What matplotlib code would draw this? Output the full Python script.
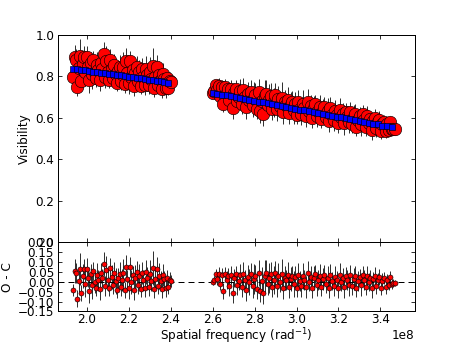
import numpy as np
import matplotlib
matplotlib.use('Agg')
import matplotlib.pyplot as plt

# spatial frequency in units of 1e8 rad^-1, first block of baselines
freq_short = [
    1.935, 1.941, 1.948, 1.954, 1.960, 1.967, 1.973, 1.979, 1.985, 1.992,
    1.998, 2.004, 2.011, 2.017, 2.023, 2.030, 2.036, 2.042, 2.048, 2.055,
    2.061, 2.067, 2.074, 2.080, 2.086, 2.093, 2.099, 2.105, 2.111, 2.118,
    2.124, 2.130, 2.137, 2.143, 2.149, 2.156, 2.162, 2.168, 2.174, 2.181,
    2.187, 2.193, 2.200, 2.206, 2.212, 2.219, 2.225, 2.231, 2.237, 2.244,
    2.250, 2.256, 2.263, 2.269, 2.275, 2.282, 2.288, 2.294, 2.300, 2.307,
    2.313, 2.319, 2.326, 2.332, 2.338, 2.345, 2.351, 2.357, 2.363, 2.370,
    2.376, 2.382, 2.389, 2.395, 2.401,
]
model_short = [
    0.836, 0.835, 0.834, 0.833, 0.832, 0.832, 0.831, 0.830, 0.829, 0.828,
    0.827, 0.826, 0.825, 0.824, 0.823, 0.822, 0.821, 0.820, 0.819, 0.819,
    0.818, 0.817, 0.816, 0.815, 0.814, 0.813, 0.812, 0.811, 0.810, 0.809,
    0.808, 0.807, 0.806, 0.806, 0.805, 0.804, 0.803, 0.802, 0.801, 0.800,
    0.799, 0.798, 0.797, 0.796, 0.795, 0.794, 0.793, 0.793, 0.792, 0.791,
    0.790, 0.789, 0.788, 0.787, 0.786, 0.785, 0.784, 0.783, 0.782, 0.781,
    0.780, 0.779, 0.779, 0.778, 0.777, 0.776, 0.775, 0.774, 0.773, 0.772,
    0.771, 0.770, 0.769, 0.768, 0.767,
]
resid_short = [
    -0.040, 0.055, 0.045, -0.085, 0.005, 0.065, -0.055, 0.030, 0.065, -0.010,
    0.065, 0.020, -0.045, 0.040, -0.015, 0.055, 0.000, -0.030, 0.035, 0.010,
    -0.035, 0.045, 0.020, 0.090, -0.020, 0.060, 0.010, -0.030, 0.070, 0.025,
    -0.015, 0.045, 0.005, -0.040, 0.020, 0.040, -0.025, 0.010, 0.045, -0.040,
    0.075, 0.015, -0.030, 0.075, 0.000, 0.035, -0.040, 0.020, 0.050, -0.015,
    0.030, -0.035, 0.045, 0.010, -0.030, 0.050, 0.020, -0.025, 0.040, 0.005,
    0.070, -0.035, 0.015, 0.065, -0.020, 0.030, 0.005, -0.035, 0.035, 0.015,
    -0.030, 0.020, -0.025, 0.010, 0.005,
]
err_short = [
    0.030, 0.060, 0.050, 0.045, 0.055, 0.080, 0.040, 0.060, 0.050, 0.065,
    0.055, 0.045, 0.060, 0.050, 0.070, 0.045, 0.055, 0.040, 0.060, 0.050,
    0.055, 0.050, 0.045, 0.060, 0.050, 0.070, 0.055, 0.040, 0.050, 0.060,
    0.045, 0.055, 0.065, 0.040, 0.050, 0.060, 0.045, 0.055, 0.070, 0.040,
    0.060, 0.045, 0.055, 0.050, 0.060, 0.045, 0.050, 0.065, 0.055, 0.045,
    0.060, 0.040, 0.055, 0.050, 0.045, 0.060, 0.055, 0.045, 0.070, 0.050,
    0.085, 0.045, 0.055, 0.060, 0.040, 0.065, 0.050, 0.045, 0.055, 0.040,
    0.045, 0.040, 0.035, 0.040, 0.030,
]

# second block of baselines
freq_long = [
    2.600, 2.607, 2.615, 2.622, 2.629, 2.637, 2.644, 2.651, 2.658, 2.666,
    2.673, 2.680, 2.688, 2.695, 2.702, 2.710, 2.717, 2.724, 2.731, 2.739,
    2.746, 2.753, 2.761, 2.768, 2.775, 2.783, 2.790, 2.797, 2.804, 2.812,
    2.819, 2.826, 2.834, 2.841, 2.848, 2.856, 2.863, 2.870, 2.877, 2.885,
    2.892, 2.899, 2.907, 2.914, 2.921, 2.929, 2.936, 2.943, 2.950, 2.958,
    2.965, 2.972, 2.980, 2.987, 2.994, 3.002, 3.009, 3.016, 3.023, 3.031,
    3.038, 3.045, 3.053, 3.060, 3.067, 3.075, 3.082, 3.089, 3.096, 3.104,
    3.111, 3.118, 3.126, 3.133, 3.140, 3.148, 3.155, 3.162, 3.169, 3.177,
    3.184, 3.191, 3.199, 3.206, 3.213, 3.221, 3.228, 3.235, 3.242, 3.250,
    3.257, 3.264, 3.272, 3.279, 3.286, 3.294, 3.301, 3.308, 3.315, 3.323,
    3.330, 3.337, 3.345, 3.352, 3.359, 3.367, 3.374, 3.381, 3.388, 3.396,
    3.403, 3.410, 3.418, 3.425, 3.432, 3.440, 3.447, 3.454, 3.461, 3.469,
]
model_long = [
    0.720, 0.719, 0.717, 0.716, 0.714, 0.713, 0.711, 0.710, 0.709, 0.707,
    0.706, 0.704, 0.703, 0.702, 0.700, 0.699, 0.697, 0.696, 0.694, 0.693,
    0.692, 0.690, 0.689, 0.687, 0.686, 0.684, 0.683, 0.682, 0.680, 0.679,
    0.677, 0.676, 0.675, 0.673, 0.672, 0.670, 0.669, 0.667, 0.666, 0.665,
    0.663, 0.662, 0.660, 0.659, 0.658, 0.656, 0.655, 0.653, 0.652, 0.650,
    0.649, 0.648, 0.646, 0.645, 0.643, 0.642, 0.640, 0.639, 0.638, 0.636,
    0.635, 0.633, 0.632, 0.631, 0.629, 0.628, 0.626, 0.625, 0.623, 0.622,
    0.621, 0.619, 0.618, 0.616, 0.615, 0.613, 0.612, 0.611, 0.609, 0.608,
    0.606, 0.605, 0.604, 0.602, 0.601, 0.599, 0.598, 0.596, 0.595, 0.594,
    0.592, 0.591, 0.589, 0.588, 0.587, 0.585, 0.584, 0.582, 0.581, 0.579,
    0.578, 0.577, 0.575, 0.574, 0.572, 0.571, 0.569, 0.568, 0.567, 0.565,
    0.564, 0.562, 0.561, 0.560, 0.558, 0.557, 0.555, 0.554, 0.552, 0.551,
]
resid_long = [
    0.000, 0.010, 0.040, 0.015, 0.040, -0.010, 0.035, -0.045, 0.040, 0.010,
    0.030, -0.020, 0.035, -0.055, 0.020, 0.040, -0.015, 0.005, 0.035, -0.025,
    0.040, 0.010, -0.040, 0.025, 0.000, 0.040, -0.020, 0.015, 0.030, -0.035,
    0.045, -0.045, 0.005, -0.055, 0.030, 0.045, -0.010, 0.020, 0.040, -0.025,
    0.010, 0.045, -0.020, 0.030, 0.000, 0.040, -0.030, 0.020, 0.010, 0.035,
    -0.025, 0.015, 0.030, -0.010, 0.025, -0.030, 0.035, 0.005, -0.020, 0.030,
    0.010, -0.025, 0.045, 0.000, 0.025, -0.030, 0.020, 0.040, -0.015, 0.010,
    0.030, -0.025, 0.015, 0.035, -0.010, 0.020, -0.030, 0.035, 0.005, -0.020,
    0.025, 0.010, -0.030, 0.035, 0.000, 0.020, -0.025, 0.030, 0.010, -0.015,
    0.035, -0.020, 0.015, 0.030, -0.030, 0.005, 0.025, -0.015, 0.035, 0.010,
    -0.025, 0.030, 0.000, 0.020, -0.030, 0.015, 0.030, -0.020, 0.010, 0.025,
    -0.030, 0.005, 0.020, -0.025, 0.010, -0.015, 0.025, -0.010, -0.005, -0.005,
]
err_long = [
    0.015, 0.020, 0.025, 0.030, 0.035, 0.030, 0.035, 0.040, 0.035, 0.045,
    0.040, 0.050, 0.045, 0.055, 0.045, 0.040, 0.050, 0.045, 0.055, 0.050,
    0.060, 0.050, 0.055, 0.060, 0.065, 0.055, 0.060, 0.075, 0.055, 0.050,
    0.065, 0.055, 0.070, 0.060, 0.080, 0.065, 0.055, 0.075, 0.060, 0.050,
    0.070, 0.060, 0.055, 0.065, 0.050, 0.075, 0.055, 0.060, 0.050, 0.065,
    0.055, 0.060, 0.050, 0.065, 0.055, 0.045, 0.060, 0.050, 0.055, 0.065,
    0.050, 0.055, 0.060, 0.045, 0.055, 0.050, 0.060, 0.045, 0.055, 0.050,
    0.060, 0.045, 0.055, 0.050, 0.045, 0.060, 0.050, 0.055, 0.045, 0.050,
    0.055, 0.045, 0.050, 0.060, 0.045, 0.050, 0.055, 0.045, 0.050, 0.055,
    0.050, 0.045, 0.055, 0.050, 0.045, 0.050, 0.040, 0.055, 0.045, 0.050,
    0.040, 0.050, 0.045, 0.040, 0.050, 0.035, 0.045, 0.040, 0.035, 0.040,
    0.035, 0.040, 0.030, 0.035, 0.030, 0.025, 0.030, 0.025, 0.020, 0.015,
]

plt.rcParams.update({
    'font.family': 'DejaVu Sans',
    'font.size': 12,
    'mathtext.fontset': 'dejavusans',
    'xtick.direction': 'in',
    'ytick.direction': 'in',
    'xtick.top': True,
    'ytick.right': True,
    'xtick.major.size': 4,
    'ytick.major.size': 4,
    'xtick.major.pad': 2,
    'axes.labelpad': 0,
    'axes.linewidth': 1.0,
})

freq = np.concatenate([freq_short, freq_long]) * 1e8
model = np.concatenate([model_short, model_long])
resid = np.concatenate([resid_short, resid_long])
err = np.concatenate([err_short, err_long])
vis = model + resid

fig = plt.figure(figsize=(461 / 72, 346 / 72), dpi=72)
ax1 = fig.add_axes([0.125, 0.3, 0.775, 0.6])
ax2 = fig.add_axes([0.125, 0.1, 0.775, 0.2], sharex=ax1)

# visibilities and model
ax1.errorbar(freq, vis, yerr=err, fmt='o', ms=12.5, mfc='red', mec='k', mew=0.6,
             ecolor='k', elinewidth=0.8, capsize=0)
ax1.plot(freq[::3], model[::3], 's', ms=6.5, mfc='blue', mec='k', mew=0.6,
         zorder=4)
ax1.set_ylim(0, 1.0)
ax1.set_yticks(np.arange(0, 1.01, 0.2))
ax1.set_ylabel('Visibility', labelpad=4)
ax1.tick_params(labelbottom=False)
ax1.xaxis.offsetText.set_visible(False)

# residuals
ax2.axhline(0, color='k', ls='--', dashes=(6, 4), lw=1)
ax2.errorbar(freq, resid, yerr=err, fmt='o', ms=5, mfc='red', mec='k', mew=0.6,
             ecolor='k', elinewidth=0.8, capsize=0)
ax2.set_ylim(-0.15, 0.20)
ax2.set_yticks(np.arange(-0.15, 0.201, 0.05))
ax2.set_ylabel('O - C', labelpad=4)
ax2.set_xlabel('Spatial frequency (rad$^{-1}$)')
ax2.set_xlim(1.86e8, 3.565e8)
ax2.set_xticks(np.arange(2.0e8, 3.41e8, 0.2e8))

fig.savefig('out.png', dpi=72)
